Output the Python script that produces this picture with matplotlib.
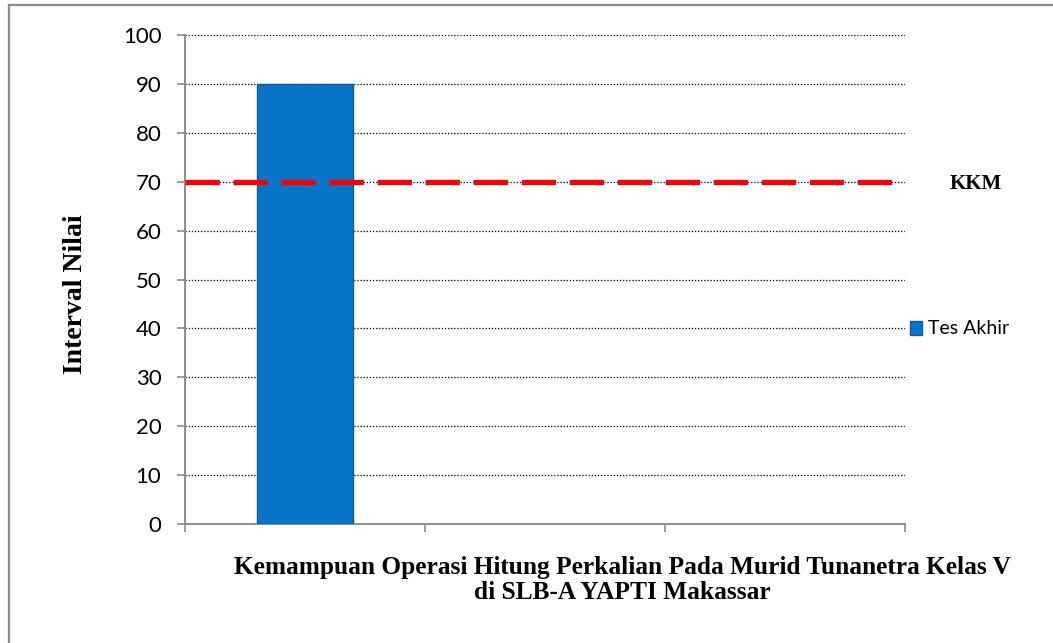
import numpy as np
import matplotlib.pyplot as plt
from matplotlib.lines import Line2D

categories = ["Tes Akhir", "", ""]
nilai = [90, np.nan, np.nan]
kkm = 70
yticks = list(range(0, 101, 10))

serif = ["Liberation Serif", "DejaVu Serif"]
sans = ["Lato", "DejaVu Sans"]

fig = plt.figure(figsize=(10.53, 6.43), dpi=100)
ax = fig.add_axes([185 / 1053, 119 / 643, 720 / 1053, 489 / 643])

x = np.arange(len(categories))
bars = ax.bar(x, nilai, width=0.4, color="#0874C8", edgecolor="#0A5A9C",
              linewidth=1.0, zorder=3, label="Tes Akhir")

# garis KKM
ax.axhline(kkm, color="#FF0000", lw=3.8, dashes=(6.5, 2.6), zorder=4)

ax.set_xlim(-0.5, len(categories) - 0.5)
ax.set_ylim(0, 100)
ax.set_yticks(yticks)
ax.set_yticklabels([str(v) for v in yticks], fontfamily=sans, fontsize=16)
ax.set_xticks(np.arange(len(categories) + 1) - 0.5)
ax.set_xticklabels([])
ax.tick_params(axis="y", length=6, color="#8C8C8C", width=1.2, pad=11)
ax.tick_params(axis="x", length=6, color="#8C8C8C", width=1.2, direction="out")

ax.yaxis.grid(True, linestyle=(0, (1, 1.5)), color="black", lw=0.9, zorder=1)
for s in ["top", "right"]:
    ax.spines[s].set_visible(False)
for s in ["left", "bottom"]:
    ax.spines[s].set_color("#8C8C8C")
    ax.spines[s].set_linewidth(1.4)

fig.text(75 / 1053, 1 - 294 / 643, "Interval Nilai", rotation=90,
         ha="center", va="center", fontfamily=serif, fontweight="bold",
         fontsize=20)
fig.text(622 / 1053, 1 - 580 / 643,
         "Kemampuan Operasi Hitung Perkalian Pada Murid Tunanetra Kelas V\n"
         "di SLB-A YAPTI Makassar",
         ha="center", va="center", fontfamily=serif, fontweight="bold",
         fontsize=18.3, linespacing=1.15)

fig.text(976 / 1053, 1 - 184 / 643, "KKM", ha="center", va="center",
         fontfamily=serif, fontweight="bold", fontsize=15)

fig.legend(handles=[bars], loc="center left",
           bbox_to_anchor=(910 / 1053, 1 - 329 / 643), frameon=False,
           prop={"family": sans, "size": 14}, handlelength=0.6,
           handleheight=0.7, handletextpad=0.3, borderpad=0,
           borderaxespad=0)

# bingkai luar
fig.add_artist(Line2D([9 / 1053, 9 / 1053], [0, 1 - 5 / 643],
                      color="#8C8C8C", lw=1.6, transform=fig.transFigure))
fig.add_artist(Line2D([9 / 1053, 1], [1 - 5 / 643, 1 - 5 / 643],
                      color="#8C8C8C", lw=1.6, transform=fig.transFigure))

fig.savefig("out.png", dpi=100)
